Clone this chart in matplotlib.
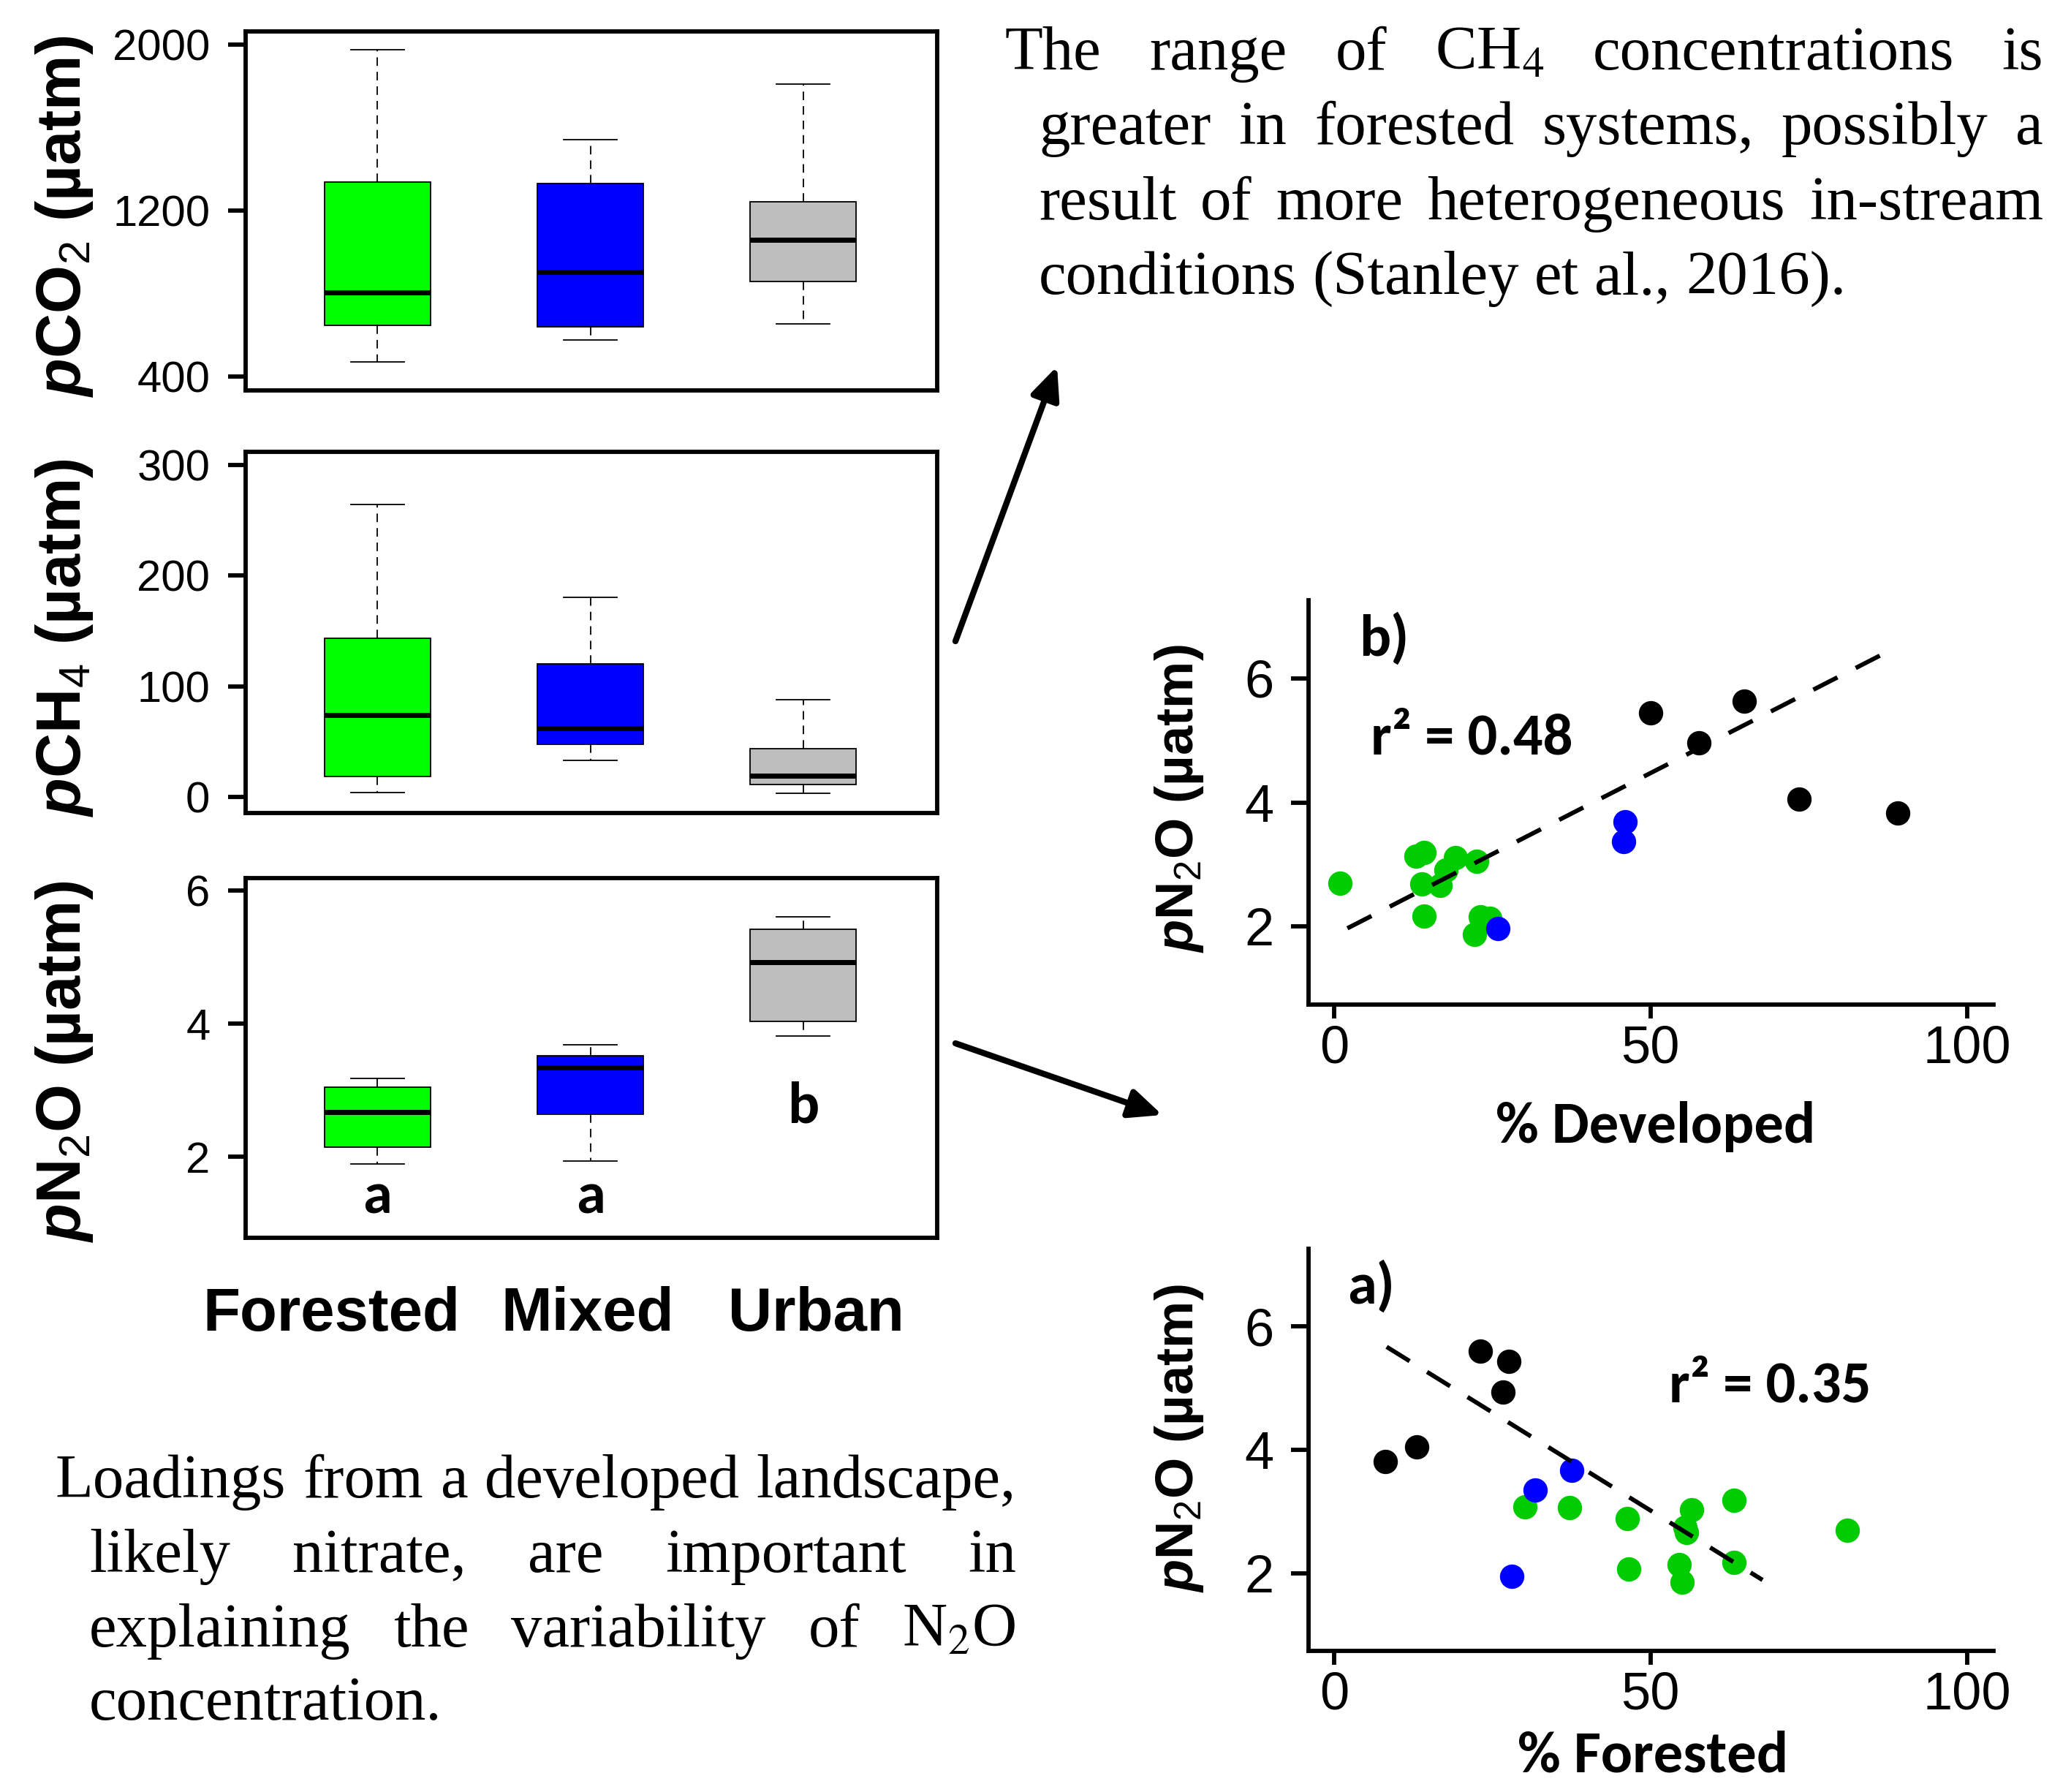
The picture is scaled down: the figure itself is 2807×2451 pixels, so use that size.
import matplotlib
matplotlib.use('Agg')
import matplotlib.pyplot as plt
from matplotlib import font_manager
from matplotlib.patches import FancyArrowPatch

W, H = 2807, 2451

# ---- box plot summaries ----
groups = ['Forested', 'Mixed', 'Urban']
box_colors = ['#00FF00', '#0000FF', '#BEBEBE']

co2_low = [470, 577, 652]
co2_q1 = [648, 639, 857]
co2_med = [804, 904, 1060]
co2_q3 = [1336, 1330, 1242]
co2_high = [1975, 1540, 1810]

ch4_low = [4.3, 33.3, 3.4]
ch4_q1 = [18.8, 47.8, 11.1]
ch4_med = [73.9, 62.3, 19.3]
ch4_q3 = [143.5, 120.3, 43.5]
ch4_high = [263.8, 180.2, 87.9]

n2o_low = [1.89, 1.94, 3.82]
n2o_q1 = [2.14, 2.64, 4.04]
n2o_med = [2.67, 3.34, 4.93]
n2o_q3 = [3.05, 3.52, 5.42]
n2o_high = [3.18, 3.68, 5.61]
n2o_letters = ['a', 'a', 'b']
n2o_letter_y = [1.15, 1.15, 2.51]

# ---- scatter data: pN2O vs % developed ----
dev_forested_x = [0.9, 12.9, 14.2, 13.9, 16.7, 17.7, 19.2, 22.5, 14.2, 23.1, 24.6, 22.2]
dev_forested_y = [2.70, 3.13, 3.19, 2.68, 2.66, 2.91, 3.11, 3.05, 2.17, 2.15, 2.13, 1.87]
dev_mixed_x = [46.0, 45.7, 25.9]
dev_mixed_y = [3.69, 3.37, 1.97]
dev_urban_x = [50.0, 64.8, 57.6, 73.5, 89.1]
dev_urban_y = [5.45, 5.63, 4.96, 4.05, 3.83]
dev_fit_x = [2.1, 86.3]
dev_fit_y = [1.97, 6.37]

# ---- scatter data: pN2O vs % forested ----
for_forested_x = [30.1, 37.2, 46.3, 56.5, 63.2, 55.7, 55.5, 81.1, 46.6, 54.5, 55.0, 63.2]
for_forested_y = [3.08, 3.06, 2.88, 3.03, 3.18, 2.66, 2.74, 2.70, 2.07, 2.14, 1.85, 2.18]
for_mixed_x = [37.5, 31.8, 28.1]
for_mixed_y = [3.67, 3.35, 1.95]
for_urban_x = [8.1, 13.0, 23.1, 27.6, 26.7]
for_urban_y = [3.81, 4.05, 5.60, 5.43, 4.94]
for_fit_x = [8.3, 67.7]
for_fit_y = [5.67, 1.89]

top_lines = ["The range of CH$_4$ concentrations is",
             "greater in forested systems, possibly a",
             "result of more heterogeneous in-stream",
             "conditions (Stanley et al., 2016)."]
bottom_lines = ["Loadings from a developed landscape,",
                "likely nitrate, are important in",
                "explaining the variability of N$_2$O",
                "concentration."]

# ---- fonts ----
names = {f.name for f in font_manager.fontManager.ttflist}
if 'Carlito' in names:
    narrow, narrow_size = 'Carlito', 58
elif 'Liberation Sans Narrow' in names:
    narrow, narrow_size = 'Liberation Sans Narrow', 55
else:
    narrow, narrow_size = 'Liberation Sans', 48

plt.rcParams['font.family'] = 'Liberation Sans'
plt.rcParams['font.sans-serif'] = ['Liberation Sans', 'DejaVu Sans']
plt.rcParams['mathtext.fontset'] = 'custom'
plt.rcParams['mathtext.rm'] = 'Liberation Sans'
plt.rcParams['mathtext.it'] = 'Liberation Sans:italic'
plt.rcParams['mathtext.bf'] = 'Liberation Sans:bold'
if 'mathtext.bfit' in plt.rcParams:
    plt.rcParams['mathtext.bfit'] = 'Liberation Sans:italic:bold'
    P = r'$\mathbfit{p}$'
else:
    P = r'$\mathit{p}$'

fig = plt.figure(figsize=(W / 100, H / 100), dpi=100)


def px_axes(left, top, right, bottom):
    return fig.add_axes([left / W, 1 - bottom / H, (right - left) / W, (bottom - top) / H])


def ftext(x, y, s, **kw):
    return fig.text(x / W, 1 - y / H, s, **kw)


def box_panel(rect, low, q1, med, q3, high, ylim, yticks, label, label_y):
    ax = px_axes(*rect)
    stats = [dict(whislo=a, q1=b, med=c, q3=d, whishi=e)
             for a, b, c, d, e in zip(low, q1, med, q3, high)]
    parts = ax.bxp(stats, positions=[1, 2, 3], widths=0.5, patch_artist=True,
                   showfliers=False,
                   boxprops=dict(edgecolor='black', linewidth=1.3),
                   whiskerprops=dict(color='black', linewidth=1.3, linestyle=(0, (6.5, 4.5))),
                   capprops=dict(color='black', linewidth=1.3),
                   medianprops=dict(color='black', linewidth=5, solid_capstyle='butt'))
    for patch, c in zip(parts['boxes'], box_colors):
        patch.set_facecolor(c)
    ax.set_xlim(0.38, 3.63)
    ax.set_ylim(*ylim)
    ax.set_yticks(yticks)
    ax.set_xticks([])
    for s in ax.spines.values():
        s.set_linewidth(4.2)
    ax.tick_params(axis='y', length=17, width=4.2, pad=18, labelsize=43)
    ftext(88, label_y, label, rotation=90, ha='center', va='center',
          fontsize=61, fontweight='bold')
    return ax


box_panel((336, 43, 1282, 534), co2_low, co2_q1, co2_med, co2_q3, co2_high,
          (333, 2062), [400, 1200, 2000], P + r'CO$_2$ (µatm)', 296)
box_panel((336, 618, 1282, 1112), ch4_low, ch4_q1, ch4_med, ch4_q3, ch4_high,
          (-14.5, 311.6), [0, 100, 200, 300], P + r'CH$_4$ (µatm)', 872)
ax3 = box_panel((336, 1201, 1282, 1693), n2o_low, n2o_q1, n2o_med, n2o_q3, n2o_high,
                (0.78, 6.19), [2, 4, 6], P + r'N$_2$O (µatm)', 1452)
for i, (lt, ly) in enumerate(zip(n2o_letters, n2o_letter_y)):
    ax3.text(i + 1, ly, lt, ha='center', va='baseline', fontsize=narrow_size,
             fontweight='bold', family=narrow)

for g, x in zip(groups, [453, 804, 1116]):
    ftext(x, 1820, g, ha='center', va='baseline', fontsize=60, fontweight='bold')


def scatter_panel(rect, gx, gy, bx, by, kx, ky, fitx, fity):
    ax = px_axes(*rect)
    ax.plot(gx, gy, 'o', color='#00CC00', ms=24, mew=0, zorder=2)
    ax.plot(bx, by, 'o', color='#0000FF', ms=24, mew=0, zorder=3)
    ax.plot(kx, ky, 'o', color='black', ms=24, mew=0, zorder=3)
    ax.plot(fitx, fity, color='black', lw=4.3, linestyle=(0, (6.2, 4.7)), zorder=4)
    ax.set_xlim(-4.04, 104.2)
    ax.set_ylim(0.74, 7.26)
    ax.set_xticks([0, 50, 100])
    ax.set_yticks([2, 4, 6])
    ax.spines['top'].set_visible(False)
    ax.spines['right'].set_visible(False)
    ax.spines['left'].set_linewidth(4.2)
    ax.spines['bottom'].set_linewidth(4.2)
    ax.tick_params(axis='x', length=14, width=4.2, pad=6, labelsize=52)
    ax.tick_params(axis='y', length=17, width=4.2, pad=17, labelsize=52)
    return ax


scatter_panel((1790, 821, 2727, 1374), dev_forested_x, dev_forested_y,
              dev_mixed_x, dev_mixed_y, dev_urban_x, dev_urban_y, dev_fit_x, dev_fit_y)
scatter_panel((1790, 1708, 2727, 2258), for_forested_x, for_forested_y,
              for_mixed_x, for_mixed_y, for_urban_x, for_urban_y, for_fit_x, for_fit_y)

n2o_label = P + r'N$_2$O (µatm)'
ftext(1613, 1092, n2o_label, rotation=90, ha='center', va='center', fontsize=52, fontweight='bold')
ftext(1613, 1967, n2o_label, rotation=90, ha='center', va='center', fontsize=52, fontweight='bold')

nkw = dict(family=narrow, fontsize=narrow_size, fontweight='bold', va='baseline')
ftext(1859, 897, 'b)', ha='left', **nkw)
ftext(1875, 1032, 'r² = 0.48', ha='left', **nkw)
ftext(2265, 1563, '% Developed', ha='center', **nkw)
ftext(1843, 1783, 'a)', ha='left', **nkw)
ftext(2283, 1918, 'r² = 0.35', ha='left', **nkw)
ftext(2261, 2424, '% Forested', ha='center', **nkw)

# ---- arrows ----
arrow_tails = [(1307, 877), (1307, 1427)]
arrow_heads = [(1446, 501), (1590, 1525)]
for (x0, y0), (x1, y1) in zip(arrow_tails, arrow_heads):
    arr = FancyArrowPatch((x0 / W, 1 - y0 / H), (x1 / W, 1 - y1 / H),
                          transform=fig.transFigure,
                          arrowstyle='-|>,head_length=0.9,head_width=0.4',
                          mutation_scale=30, lw=6, color='black',
                          shrinkA=0, shrinkB=0)
    fig.add_artist(arr)

# ---- justified paragraphs ----
renderer = fig.canvas.get_renderer()
serif_size = 61


def paragraph(lines, starts, right, baselines):
    space = 0.25 * serif_size * 100 / 72
    for i, (line, x0, yb) in enumerate(zip(lines, starts, baselines)):
        words = line.split(' ')
        arts = [ftext(0, yb, w, fontsize=serif_size, family='Liberation Serif',
                      math_fontfamily='stix', va='baseline', ha='left') for w in words]
        widths = [a.get_window_extent(renderer).width for a in arts]
        if i < len(lines) - 1 and len(words) > 1:
            gap = (right - x0 - sum(widths)) / (len(words) - 1)
        else:
            gap = space
        x = x0
        for a, w in zip(arts, widths):
            a.set_x(x / W)
            x += w + gap


paragraph(top_lines, [1375, 1421, 1421, 1421], 2795, [95, 197, 300, 402])
paragraph(bottom_lines, [76, 122, 122, 122], 1390, [2048, 2150, 2252, 2352])

fig.savefig('out.png', dpi=100, facecolor='white')
